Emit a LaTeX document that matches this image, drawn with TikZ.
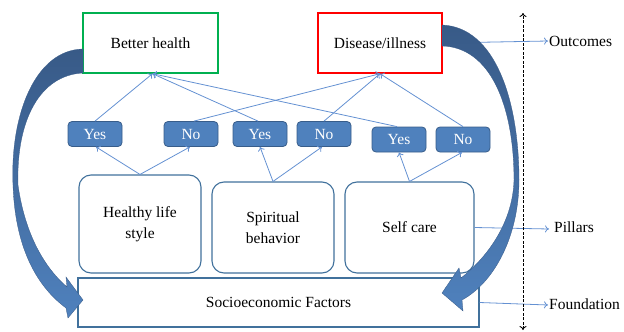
\documentclass[tikz,border=0pt]{standalone}
\usepackage{fontspec}
\setmainfont{Liberation Serif}
\usetikzlibrary{arrows.meta}
\definecolor{cgreen}{RGB}{0,176,80}
\definecolor{cred}{RGB}{255,0,0}
\definecolor{ynfill}{RGB}{79,129,189}
\definecolor{ynline}{RGB}{56,93,138}
\definecolor{pline}{RGB}{65,113,156}
\definecolor{conncol}{RGB}{100,145,210}
\definecolor{bigtop}{RGB}{56,90,135}
\definecolor{bigbot}{RGB}{79,129,189}
\tikzset{
  txt/.style={font=\fontsize{15.5}{21}\selectfont, text=black},
  outbox/.style={txt, draw, line width=1.4pt, fill=white, minimum width=135pt, minimum height=60pt, inner sep=0pt},
  ynbox/.style={font=\fontsize{15.5}{18}\selectfont, text=white, fill=ynfill, draw=ynline, line width=0.8pt, rounded corners=4pt, minimum width=54pt, minimum height=25pt, inner sep=0pt},
  pillbox/.style={txt, align=center, draw=pline, line width=1.1pt, fill=white, rounded corners=12pt, inner sep=0pt},
  conn/.style={draw=conncol, line width=0.8pt, -{To[length=4pt,width=7pt]}},
  sidelbl/.style={txt, anchor=west, inner sep=1pt},
  bigarrow/.style={top color=bigtop, bottom color=bigbot, draw=bigtop, line width=0.3pt},
}
\begin{document}
\begin{tikzpicture}[x=1pt,y=-1pt]
\useasboundingbox (0,0) rectangle (624,332);
% outcome boxes
\node[outbox, draw=cgreen] (bh) at (150.5,43) {Better health};
\node[outbox, draw=cred, minimum width=124pt] (dis) at (380,43) {Disease/illness};
% yes / no boxes
\node[ynbox] (y1) at (95,134) {Yes};
\node[ynbox] (n1) at (191,134) {No};
\node[ynbox] (y2) at (260,134) {Yes};
\node[ynbox] (n2) at (324,134) {No};
\node[ynbox] (y3) at (399,139.5) {Yes};
\node[ynbox] (n3) at (463,139.5) {No};
% pillars
\node[pillbox, minimum width=122pt, minimum height=98pt] (hl) at (140,224) {Healthy life\\style};
\node[pillbox, minimum width=122pt, minimum height=91pt] (sp) at (273,227.5) {Spiritual\\behavior};
\node[pillbox, minimum width=129pt, minimum height=91pt] (sc) at (409.5,227.5) {Self care};
% foundation
\node[txt, draw=pline, line width=1.1pt, fill=white, minimum width=401pt, minimum height=49pt, inner sep=0pt] (soc) at (278.5,302.5) {Socioeconomic Factors};
% connectors upper
\draw[conn] (y1.north) -- ([xshift=2pt]bh.south);
\draw[conn] ([xshift=3pt]n1.north) -- (dis.south);
\draw[conn] ([xshift=-2pt]y2.north) -- ([xshift=2pt]bh.south);
\draw[conn] (n2.north) -- (dis.south);
\draw[conn] ([xshift=-2pt]y3.north) -- ([xshift=2pt]bh.south);
\draw[conn] (n3.north) -- (dis.south);
% connectors lower
\draw[conn] (hl.north) -- ([xshift=1pt]y1.south);
\draw[conn] (hl.north) -- ([xshift=-1pt]n1.south);
\draw[conn] (sp.north) -- (y2.south);
\draw[conn] (sp.north) -- ([xshift=-2pt]n2.south);
\draw[conn] (sc.north) -- (y3.south);
\draw[conn] (sc.north) -- ([xshift=-1pt]n3.south);
% side labels
\node[sidelbl] (outl) at (548,41) {Outcomes};
\node[sidelbl] (pil) at (553,227) {Pillars};
\node[sidelbl] (fou) at (548,304) {Foundation};
\draw[conn] (dis.east) -- (outl.west);
\draw[conn] (sc.east) -- ([xshift=-4pt,yshift=-2pt]pil.west);
\draw[conn] (soc.east) -- ([yshift=-1pt]fou.west);
% dashed axis
\coordinate (dtop) at (523,13);
\coordinate (dbot) at (523,330);
\draw[black, dash pattern=on 3pt off 1.5pt, line width=0.9pt, {To[length=4pt,width=7pt]}-{To[length=4pt,width=7pt]}] (dbot) -- (dtop);
% big curved arrows
\shade[bigarrow] (83,49) .. controls (35,50) and (10,115) .. (13,185)
  .. controls (15,245) and (35,285) .. (66,308) -- (68,318) -- (83,300) -- (66,277) -- (67,287)
  .. controls (45,268) and (25,235) .. (18,185)
  .. controls (16,120) and (40,75) .. (83,73) -- cycle;
\shade[bigarrow] (442,25) .. controls (495,27) and (519,100) .. (519,180)
  .. controls (519,235) and (495,282) .. (462,300) -- (463,311) -- (442,293) -- (459,268) -- (461,278)
  .. controls (490,255) and (513,220) .. (514,180)
  .. controls (514,105) and (490,47) .. (442,46) -- cycle;
\end{tikzpicture}
\end{document}
